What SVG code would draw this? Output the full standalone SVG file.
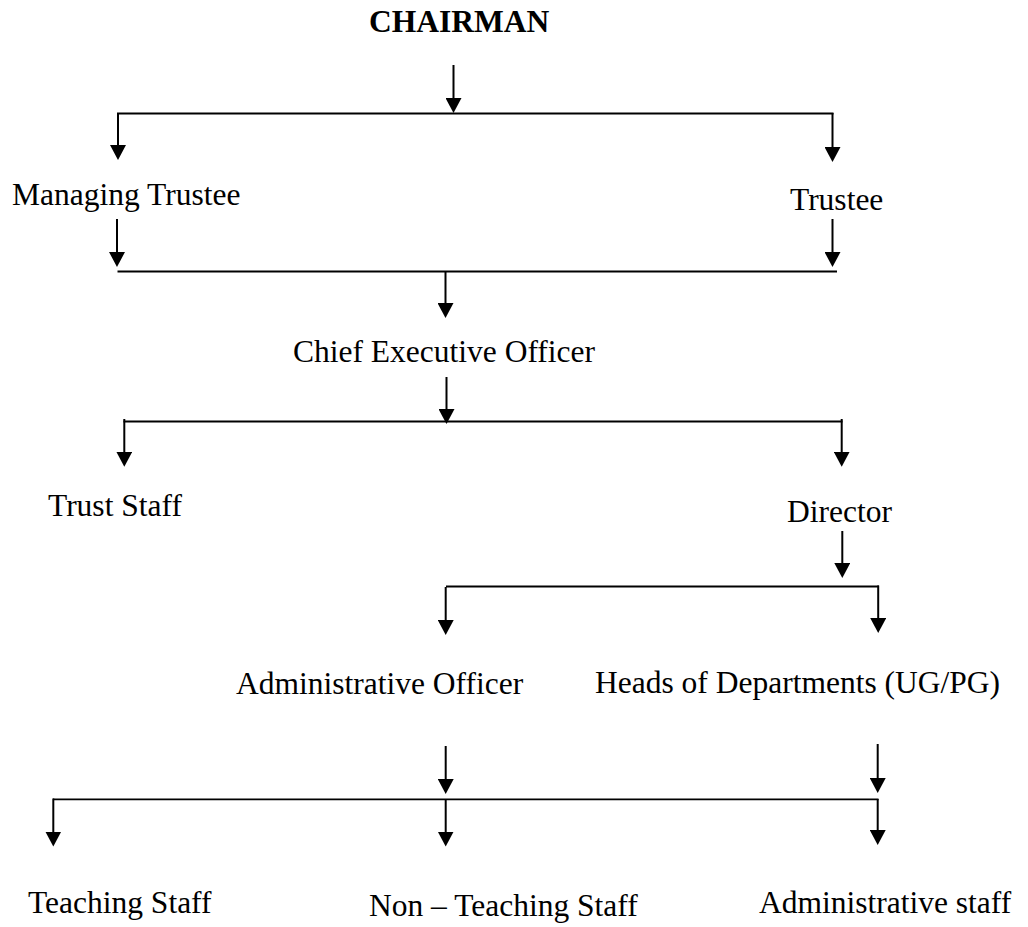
<svg xmlns="http://www.w3.org/2000/svg" width="1028" height="927" viewBox="0 0 1028 927">
<style>
text{font-family:"Liberation Serif","Times New Roman",serif;font-size:31.5px;fill:#000}
.b{font-weight:bold}
.c line{stroke:#000;stroke-width:2}
.c line.a{marker-end:url(#ah)}
.c line.h{stroke-width:1.8}
</style>
<defs>
<marker id="ah" viewBox="0 0 15 16" refX="12" refY="8" markerWidth="15" markerHeight="16" markerUnits="userSpaceOnUse" orient="auto">
<path d="M0,0 L15,8 L0,16 z" fill="#000"/>
</marker>
</defs>
<rect width="1028" height="927" fill="#fff"/>
<g id="connectors" class="c">
<line class="a" x1="453.5" y1="65" x2="453.5" y2="110"/>
<line class="h" x1="117" y1="113.5" x2="833.5" y2="113.5"/>
<line class="a" x1="118" y1="113" x2="118" y2="157"/>
<line class="a" x1="832.5" y1="113" x2="832.5" y2="159"/>
<line class="a" x1="117" y1="219" x2="117" y2="264"/>
<line class="a" x1="832.5" y1="219" x2="832.5" y2="264"/>
<line class="h" x1="117.5" y1="271.5" x2="837" y2="271.5"/>
<line class="a" x1="445.5" y1="271" x2="445.5" y2="315"/>
<line class="a" x1="446.5" y1="377" x2="446.5" y2="421"/>
<line class="h" x1="123.5" y1="421.5" x2="842.5" y2="421.5"/>
<line class="a" x1="124.3" y1="419" x2="124.3" y2="463.7"/>
<line class="a" x1="841.7" y1="419" x2="841.7" y2="463.7"/>
<line class="a" x1="842.3" y1="531" x2="842.3" y2="575"/>
<line class="h" x1="446" y1="586.5" x2="879" y2="586.5"/>
<line class="a" x1="445.7" y1="587" x2="445.7" y2="632"/>
<line class="a" x1="878.2" y1="585.5" x2="878.2" y2="630"/>
<line class="a" x1="445.7" y1="746" x2="445.7" y2="791"/>
<line class="a" x1="877.7" y1="744" x2="877.7" y2="790"/>
<line class="h" x1="53" y1="799.3" x2="878.5" y2="799.3"/>
<line class="a" x1="53.3" y1="798.5" x2="53.3" y2="843.5"/>
<line class="a" x1="445.7" y1="799" x2="445.7" y2="843.5"/>
<line class="a" x1="877.7" y1="799" x2="877.7" y2="842"/>
</g>
<g id="chairman"><text class="b" x="369" y="32">CHAIRMAN</text></g>
<g id="managing-trustee"><text x="12" y="205">Managing Trustee</text></g>
<g id="trustee"><text x="790" y="210">Trustee</text></g>
<g id="ceo"><text x="293" y="362">Chief Executive Officer</text></g>
<g id="trust-staff"><text x="48" y="516">Trust Staff</text></g>
<g id="director"><text x="787" y="522">Director</text></g>
<g id="admin-officer"><text x="236" y="694">Administrative Officer</text></g>
<g id="heads"><text x="595" y="693">Heads of Departments (UG/PG)</text></g>
<g id="teaching-staff"><text x="28" y="913">Teaching Staff</text></g>
<g id="non-teaching-staff"><text x="369" y="916">Non – Teaching Staff</text></g>
<g id="admin-staff"><text x="759" y="913">Administrative staff</text></g>
</svg>
